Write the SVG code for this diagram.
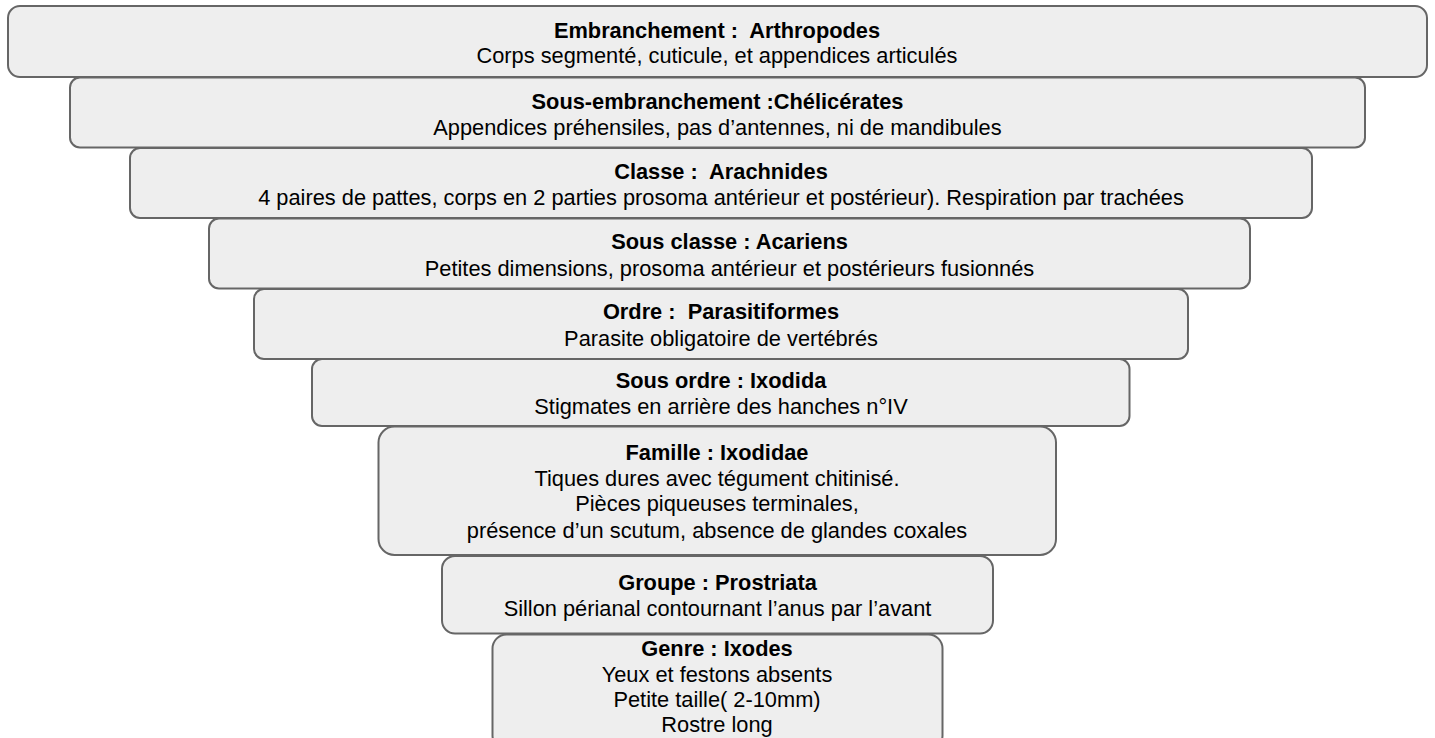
<svg xmlns="http://www.w3.org/2000/svg" width="1435" height="738" viewBox="0 0 1435 738">
<style>
.box{fill:#eeeeee;stroke:#666666;stroke-width:2}
text{font-family:"Liberation Sans",Arial,sans-serif;font-size:21.8px;fill:#000;text-anchor:middle;white-space:pre}
.t{font-weight:bold}
</style>
<rect width="1435" height="738" fill="#ffffff"/>
<g id="connectors"></g>
<g id="n9"><rect class="box" x="492.5" y="634.5" width="450" height="115" rx="14"/>
<text class="t" x="717" y="655.5">Genre : Ixodes</text>
<text x="717" y="681.5">Yeux et festons absents</text>
<text x="717" y="706.5">Petite taille( 2-10mm)</text>
<text x="717" y="731.5">Rostre long</text></g>
<g id="n8"><rect class="box" x="442" y="556" width="551" height="77.5" rx="13"/>
<text class="t" x="717.5" y="589.5">Groupe : Prostriata</text>
<text x="717.5" y="615.5">Sillon périanal contournant l’anus par l’avant</text></g>
<g id="n7"><rect class="box" x="378.5" y="426.5" width="677.5" height="128.5" rx="16"/>
<text class="t" x="717" y="459.5">Famille : Ixodidae</text>
<text x="717" y="485.5">Tiques dures avec tégument chitinisé.</text>
<text x="717" y="510.5">Pièces piqueuses terminales,</text>
<text x="717" y="537.5">présence d’un scutum, absence de glandes coxales</text></g>
<g id="n6"><rect class="box" x="312" y="359" width="817.5" height="67" rx="10"/>
<text class="t" x="721" y="387.5">Sous ordre : Ixodida</text>
<text x="721" y="413.5">Stigmates en arrière des hanches n°IV</text></g>
<g id="n5"><rect class="box" x="254" y="289" width="934" height="70" rx="10"/>
<text class="t" x="721" y="318.5">Ordre :  Parasitiformes</text>
<text x="721" y="345.5">Parasite obligatoire de vertébrés</text></g>
<g id="n4"><rect class="box" x="209" y="218.5" width="1041" height="70" rx="10"/>
<text class="t" x="729.5" y="248.5">Sous classe : Acariens</text>
<text x="729.5" y="275.5">Petites dimensions, prosoma antérieur et postérieurs fusionnés</text></g>
<g id="n3"><rect class="box" x="130" y="148" width="1182" height="70" rx="10"/>
<text class="t" x="721" y="178.5">Classe :  Arachnides</text>
<text x="721" y="204.5">4 paires de pattes, corps en 2 parties prosoma antérieur et postérieur). Respiration par trachées</text></g>
<g id="n2"><rect class="box" x="70" y="77.5" width="1295" height="70" rx="10"/>
<text class="t" x="717.5" y="108.5">Sous-embranchement :Chélicérates</text>
<text x="717.5" y="134.5">Appendices préhensiles, pas d’antennes, ni de mandibules</text></g>
<g id="n1"><rect class="box" x="8" y="6" width="1419" height="71" rx="12"/>
<text class="t" x="717" y="37.5">Embranchement :  Arthropodes</text>
<text x="717" y="62.5">Corps segmenté, cuticule, et appendices articulés</text></g>
</svg>
